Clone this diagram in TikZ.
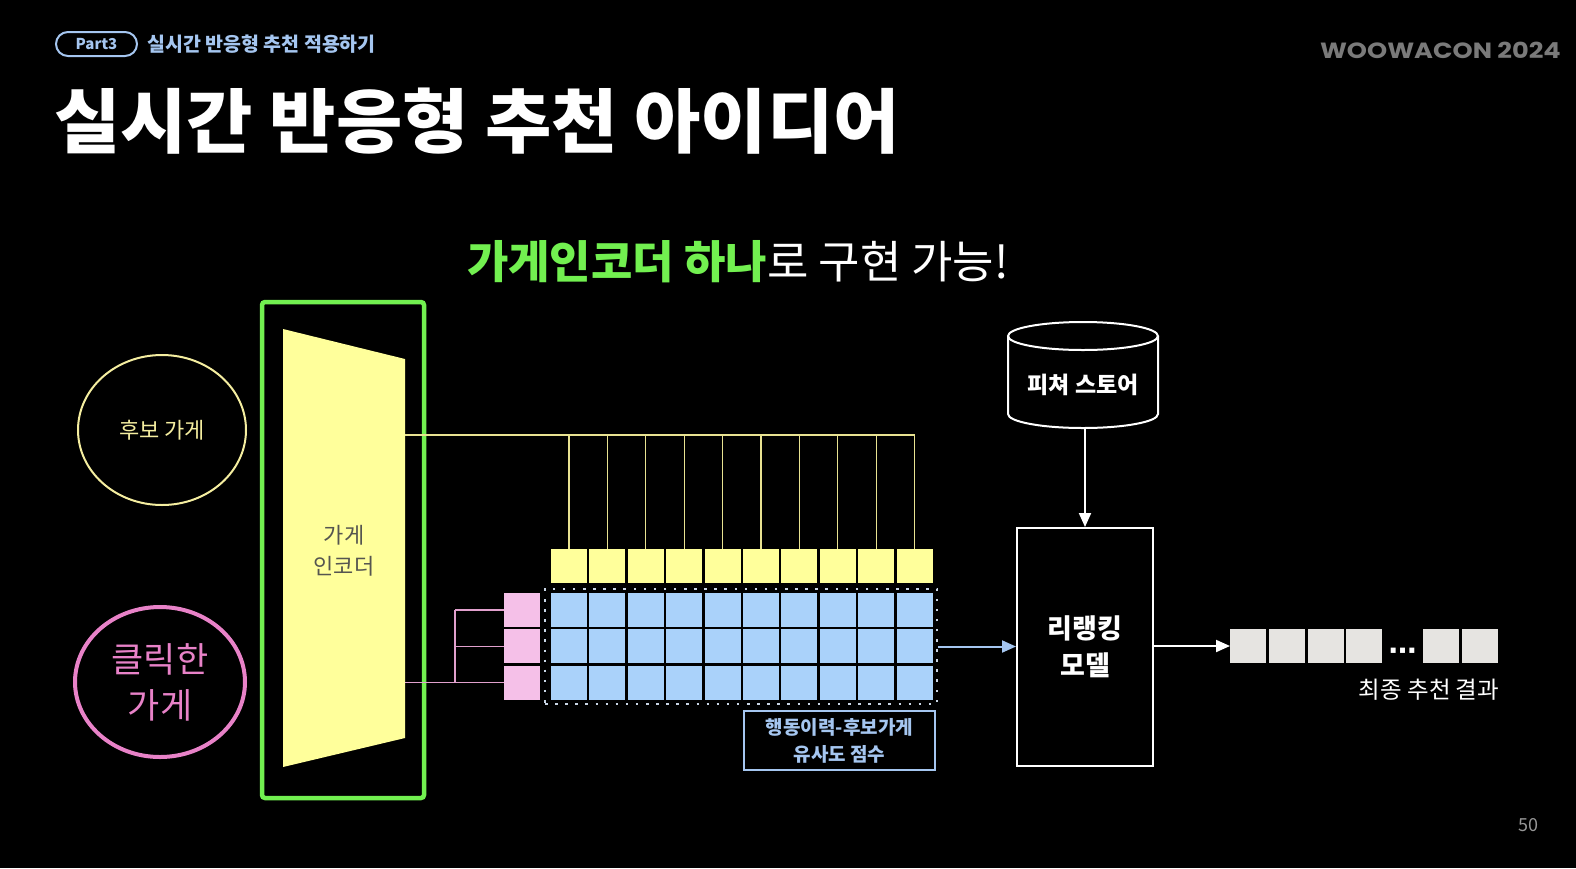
\documentclass[tikz,border=0pt]{standalone}
\usepackage{fontspec}
\newfontfamily\kr{Noto Sans CJK KR}
\newfontfamily\pop{Poppins}
\newfontfamily\djsans{DejaVu Sans}
\usetikzlibrary{arrows.meta,shapes.geometric}
\definecolor{cgreen}{RGB}{114,240,80}
\definecolor{cyelfill}{RGB}{255,255,155}
\definecolor{cyelline}{RGB}{232,226,145}
\definecolor{cyelell}{RGB}{245,238,160}
\definecolor{cblue}{RGB}{170,210,250}
\definecolor{cpink}{RGB}{245,192,232}
\definecolor{cpinkline}{RGB}{225,160,205}
\definecolor{cpinkell}{RGB}{232,130,200}
\definecolor{clblue}{RGB}{165,198,240}
\definecolor{cgray}{RGB}{230,228,225}
\definecolor{cdots}{RGB}{200,212,228}
\definecolor{clogo}{RGB}{122,122,122}
\definecolor{cpage}{RGB}{150,150,150}
\definecolor{cenc}{RGB}{85,85,80}
\newcommand{\setfs}[2]{\fontsize{#1}{#2}\selectfont}
\tikzset{
  cellbase/.style={draw=none, minimum width=36pt, minimum height=34pt, inner sep=0pt, outer sep=0pt},
  ycell/.style={cellbase, fill=cyelfill},
  bcell/.style={cellbase, fill=cblue},
  pcell/.style={cellbase, fill=cpink},
  gcell/.style={cellbase, fill=cgray},
  yline/.style={draw=cyelline, line width=1.3pt},
  pline/.style={draw=cpinkline, line width=1.3pt},
  arr/.style={-{Triangle[length=14pt,width=12pt]}, line width=2pt},
  txt/.style={inner sep=0pt, align=center, font=\kr},
}
\begin{document}
\begin{tikzpicture}[x=1pt,y=-1pt]
\useasboundingbox (0,0) rectangle (1576,868);
\fill[black] (0,0) rectangle (1576,868);

% header
\node[draw=clblue, line width=2pt, rounded corners=12pt, minimum width=81pt, minimum height=24pt, inner sep=0pt, text=clblue, font=\kr\bfseries\setfs{15}{18}] (part) at (96.5,44) {Part3};
\node[txt, anchor=west, text=clblue, font=\kr\bfseries\setfs{19.5}{22}] (sub) at (147,44) {실시간 반응형 추천 적용하기};
\node[txt, anchor=east, text=clogo, font=\pop\bfseries\setfs{22}{24}] (logo) at (1561,50) {\scalebox{1.165}[1]{WOOWACON 2024}};
\node[txt, anchor=west, text=white, font=\kr\bfseries\setfs{70}{78}] (title) at (54,121) {\scalebox{1.03}[1]{실시간 반응형 추천 아이디어}};
\node[txt, text=white, font=\kr\setfs{45}{52}] (head) at (738,262) {{\bfseries\color{cgreen}가게인코더 하나}로 구현 가능!};
\node[txt, text=cpage, font=\kr\setfs{18}{20}] (page) at (1528,825) {50};

% inputs
\node[ellipse, draw=cyelell, line width=2pt, minimum width=168pt, minimum height=150pt, inner sep=0pt, text=cyelell, font=\kr\setfs{22}{26}] (cand) at (162,430) {후보 가게};
\node[ellipse, draw=cpinkell, line width=4pt, minimum width=170pt, minimum height=150pt, inner sep=0pt, text=cpinkell, align=center, font=\kr\setfs{35}{46}] (click) at (160,682) {클릭한\\가게};

% encoder
\node[draw=cgreen, line width=4.5pt, rounded corners=3pt, minimum width=162pt, minimum height=496pt, inner sep=0pt] (encbox) at (343,550) {};
\fill[cyelfill] (283,329) -- (405,359) -- (405,738) -- (283,767) -- cycle;
\node[txt, text=cenc, font=\kr\setfs{22}{31}] (enc) at (344,551) {가게\\인코더};
\coordinate (encY) at (405,435);
\coordinate (encP) at (405,682.6);
\coordinate (pj) at (455,682.6);

% grid
\foreach \i in {0,...,9} {
  \node[ycell] (y\i) at ({569+38.4*\i},566) {};
  \foreach \j in {0,1,2} {
    \node[bcell] (b\i\j) at ({569+38.4*\i},{610+36.3*\j}) {};
  }
}
\foreach \j in {0,1,2} {
  \node[pcell] (p\j) at (522,{610+36.3*\j}) {};
}
\node[draw=cdots, line width=2.5pt, dash pattern=on 2.5pt off 7.6pt, minimum width=392pt, minimum height=115pt, inner sep=0pt] (grid) at (741,646.5) {};

% yellow connectors
\draw[yline] (encY) -- (encY -| y9.center);
\foreach \i in {0,...,9} {
  \draw[yline] (encY -| y\i.center) -- (y\i.north);
}
% pink connectors
\draw[pline] (encP) -- (p2.west);
\draw[pline] (p0.west -| pj) -- (p2.west -| pj);
\draw[pline] (p0.west -| pj) -- (p0.west);
\draw[pline] (p1.west -| pj) -- (p1.west);

% label
\node[draw=clblue, line width=2pt, minimum width=191pt, minimum height=59pt, inner sep=0pt, text=clblue, align=center, font=\kr\bfseries\setfs{19}{27}] (simlabel) at (839.5,740.5) {행동이력-후보가게\\유사도 점수};

% feature store
\draw[white, line width=2pt] (1008,336) -- (1008,414) arc[start angle=180, end angle=0, x radius=75, y radius=14] -- (1158,336);
\draw[white, line width=2pt] (1083,336) ellipse [x radius=75, y radius=14];
\node[txt, text=white, font=\kr\bfseries\setfs{23}{26}] (store) at (1083,385) {피쳐 스토어};
\coordinate (storebot) at (1083,428);

% reranking model
\node[draw=white, line width=2pt, minimum width=136pt, minimum height=238pt, inner sep=0pt, text=white, align=center, font=\kr\bfseries\setfs{27}{37}] (rerank) at (1085,647) {리랭킹\\모델};

\draw[arr, white] (storebot -| rerank.north) -- (rerank.north);
\draw[arr, clblue] (grid.east) -- (grid.east -| rerank.west);

% output
\foreach \k/\xx in {0/1248,1/1287,2/1326,3/1364,4/1441,5/1480} {
  \node[gcell] (o\k) at (\xx,646) {};
}
\node[txt, text=white, font=\djsans\bfseries\setfs{28}{30}] (odots) at (1402.5,654) {⋯};
\draw[arr, white] (o0.west -| rerank.east) -- (o0.west);
\node[txt, text=white, font=\kr\setfs{23.5}{26}] (final) at (1429,690) {최종 추천 결과};
\end{tikzpicture}
\end{document}
